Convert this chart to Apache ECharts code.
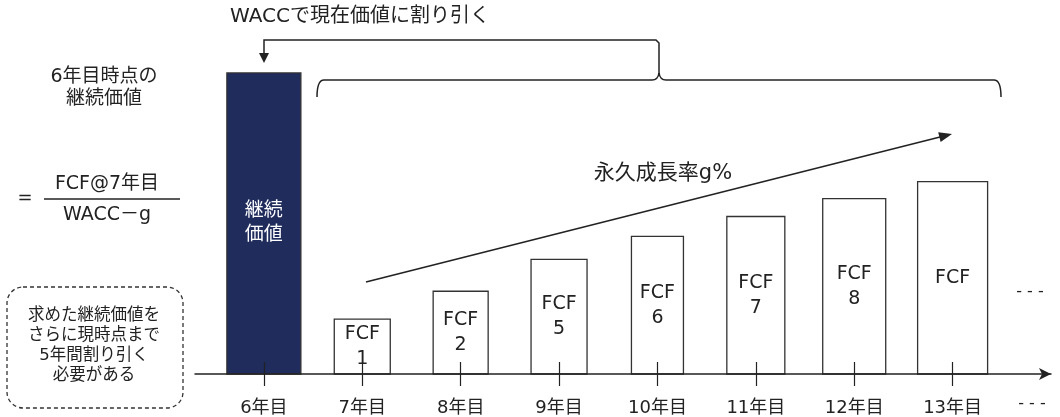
<!DOCTYPE html>
<html>
<head>
<meta charset="utf-8">
<script src="https://cdn.jsdelivr.net/npm/echarts@6/dist/echarts.min.js"></script>
<style>
  html, body { margin: 0; padding: 0; background: #fff; }
  #chart { width: 1060px; height: 417px; }
</style>
</head>
<body>
<div id="chart"></div>
<script>
// ---- data ----
const years = [6, 7, 8, 9, 10, 11, 12, 13];
const tickLabels = ['6年目', '7年目', '8年目', '9年目', '10年目', '11年目', '12年目', '13年目'];
const values = [302, 55, 83, 115, 138, 158, 176, 193];
const barLabels = ['継続\n価値', 'FCF\n1', 'FCF\n2', 'FCF\n5', 'FCF\n6', 'FCF\n7', 'FCF\n8', 'FCF'];

// ---- style ----
const FONT = "'DejaVu Sans', 'Noto Sans CJK JP', sans-serif";
const INK = '#222';
const NAVY = '#1f2c5c';
const barWidths = [74, 56, 55, 56, 52, 58, 63, 70];

const chart = echarts.init(document.getElementById('chart'), null, { renderer: 'canvas' });

function arrowHead(tip, from, len, half) {
  const dx = tip[0] - from[0], dy = tip[1] - from[1];
  const L = Math.sqrt(dx * dx + dy * dy);
  const ux = dx / L, uy = dy / L;
  const bx = tip[0] - ux * len, by = tip[1] - uy * len;
  return [[tip[0], tip[1]], [bx - uy * half, by + ux * half], [bx + uy * half, by - ux * half]];
}

const growthStart = [366, 282], growthTip = [952, 134];
const lineStyle = { stroke: INK, lineWidth: 1.5, fill: 'none' };

const option = {
  backgroundColor: '#fff',
  animation: false,
  grid: { left: 195, right: 9, top: 55, bottom: 42, containLabel: false },
  xAxis: [
    {
      type: 'value', min: 5.3, max: 14, z: 5,
      splitLine: { show: false },
      axisLine: { show: true, lineStyle: { color: INK, width: 1.5 }, symbol: ['none', 'arrow'], symbolSize: [9, 12] },
      axisTick: { show: true, customValues: years, length: 12, lineStyle: { color: INK, width: 1.2 } },
      axisLabel: {
        show: true, customValues: years, margin: 25,
        color: INK, fontSize: 18, fontFamily: FONT,
        formatter: (v) => tickLabels[years.indexOf(v)] || ''
      }
    },
    {
      type: 'value', min: 5.3, max: 14, z: 5, position: 'bottom',
      splitLine: { show: false },
      axisLine: { show: false },
      axisTick: { show: true, inside: true, customValues: years, length: 12, lineStyle: { color: INK, width: 1.2 } },
      axisLabel: { show: false }
    }
  ],
  yAxis: { type: 'value', min: 0, max: 320, show: false, splitLine: { show: false } },
  series: [
    {
      type: 'custom',
      xAxisIndex: 0,
      data: years.map((y, i) => [y, values[i]]),
      renderItem: function (params, api) {
        const i = params.dataIndex;
        const top = api.coord([api.value(0), api.value(1)]);
        const base = api.coord([api.value(0), 0]);
        const w = barWidths[i];
        const isNavy = i === 0;
        return {
          type: 'rect',
          shape: { x: top[0] - w / 2, y: top[1], width: w, height: base[1] - top[1] },
          style: { fill: isNavy ? NAVY : '#fff', stroke: '#333', lineWidth: 1.3 },
          textContent: {
            style: {
              text: barLabels[i], fill: isNavy ? '#fff' : INK,
              fontSize: 19, fontFamily: FONT, lineHeight: isNavy ? 24 : 25, align: 'center'
            }
          },
          textConfig: { position: 'inside' }
        };
      }
    }
  ],
  graphic: [
    // title
    { type: 'text', x: 230, y: 7, style: { text: 'WACCで現在価値に割り引く', fill: INK, fontSize: 20, fontFamily: FONT } },
    // left texts
    { type: 'text', x: 104, y: 88, style: { text: '6年目時点の\n継続価値', fill: INK, fontSize: 19, lineHeight: 22, fontFamily: FONT, align: 'center', verticalAlign: 'middle' } },
    { type: 'text', x: 25, y: 198, style: { text: '=', fill: INK, fontSize: 18, fontFamily: FONT, align: 'center', verticalAlign: 'middle' } },
    { type: 'text', x: 107, y: 184, style: { text: 'FCF@7年目', fill: INK, fontSize: 19, fontFamily: FONT, align: 'center', verticalAlign: 'middle' } },
    { type: 'line', shape: { x1: 44, y1: 199, x2: 180, y2: 199 }, style: { stroke: INK, lineWidth: 1.5 } },
    { type: 'text', x: 107, y: 215, style: { text: 'WACC－g', fill: INK, fontSize: 19, fontFamily: FONT, align: 'center', verticalAlign: 'middle' } },
    // dashed rounded box
    { type: 'rect', shape: { x: 7, y: 287, width: 176, height: 121, r: 16 }, style: { fill: 'none', stroke: '#333', lineWidth: 1.3, lineDash: [4, 3] } },
    { type: 'text', x: 94, y: 346, style: { text: '求めた継続価値を\nさらに現時点まで\n5年間割り引く\n必要がある', fill: INK, fontSize: 16.5, lineHeight: 20, fontFamily: FONT, align: 'center', verticalAlign: 'middle' } },
    // WACC discount arrow
    { type: 'polyline', shape: { points: [[659, 74], [659, 43], [656, 40], [264, 40], [264, 55]] }, style: lineStyle },
    { type: 'polygon', shape: { points: [[259, 53], [269, 53], [264, 63]] }, style: { fill: INK } },
    // brace
    { type: 'bezierCurve', shape: { x1: 317, y1: 97, x2: 324, y2: 80, cpx1: 317, cpy1: 80 }, style: lineStyle },
    { type: 'line', shape: { x1: 324, y1: 80, x2: 652, y2: 80 }, style: lineStyle },
    { type: 'bezierCurve', shape: { x1: 652, y1: 80, x2: 659, y2: 73, cpx1: 658, cpy1: 80 }, style: lineStyle },
    { type: 'bezierCurve', shape: { x1: 659, y1: 73, x2: 666, y2: 80, cpx1: 660, cpy1: 80 }, style: lineStyle },
    { type: 'line', shape: { x1: 666, y1: 80, x2: 994, y2: 80 }, style: lineStyle },
    { type: 'bezierCurve', shape: { x1: 994, y1: 80, x2: 1001, y2: 97, cpx1: 1001, cpy1: 80 }, style: lineStyle },
    // growth arrow
    { type: 'line', shape: { x1: growthStart[0], y1: growthStart[1], x2: growthTip[0] - 8, y2: growthTip[1] + 2 }, style: { stroke: INK, lineWidth: 1.6 } },
    { type: 'polygon', shape: { points: arrowHead(growthTip, growthStart, 13, 5) }, style: { fill: INK } },
    { type: 'text', x: 663, y: 174, style: { text: '永久成長率g%', fill: INK, fontSize: 21, fontFamily: FONT, align: 'center', verticalAlign: 'middle' } },
    // continuation marks
    { type: 'text', x: 1030, y: 292, style: { text: '- - -', fill: INK, fontSize: 16, fontFamily: FONT, align: 'center', verticalAlign: 'middle' } },
    { type: 'text', x: 1032, y: 404, style: { text: '- - -', fill: INK, fontSize: 16, fontFamily: FONT, align: 'center', verticalAlign: 'middle' } }
  ]
};

chart.setOption(option);
</script>
</body>
</html>
